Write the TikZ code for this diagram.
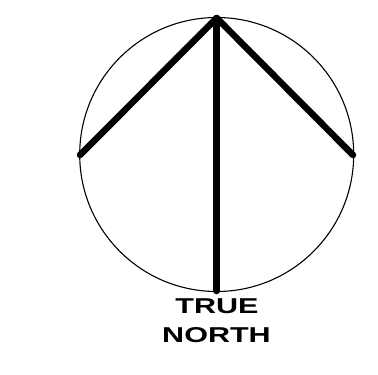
\documentclass[tikz,border=0pt]{standalone}
\usepackage{fontspec}
\setmainfont{Liberation Sans}
\begin{document}
\begin{tikzpicture}[x=1pt,y=-1pt,
  ring/.style={line width=1.1pt},
  arm/.style={line width=6.5pt,line cap=round,line join=round},
  label/.style={font=\bfseries\fontsize{21.5}{29}\selectfont,align=center,inner sep=0pt,anchor=base}]
\useasboundingbox (0,0) rectangle (378,375);
\coordinate (c) at (216.7,154.5);
\draw[ring] (c) circle[radius=137];
\coordinate (top) at (216.7,18);
\coordinate (left) at (80,155);
\coordinate (right) at (353,155);
\coordinate (bottom) at (216.7,291);
\draw[arm] (left) -- (top) -- (right);
\draw[arm] (top) -- (bottom);
\node[label] (t1) at (217,313) {\scalebox{1.42}[1]{TRUE}};
\node[label] (t2) at (216.5,342) {\scalebox{1.42}[1]{NORTH}};
\end{tikzpicture}
\end{document}
